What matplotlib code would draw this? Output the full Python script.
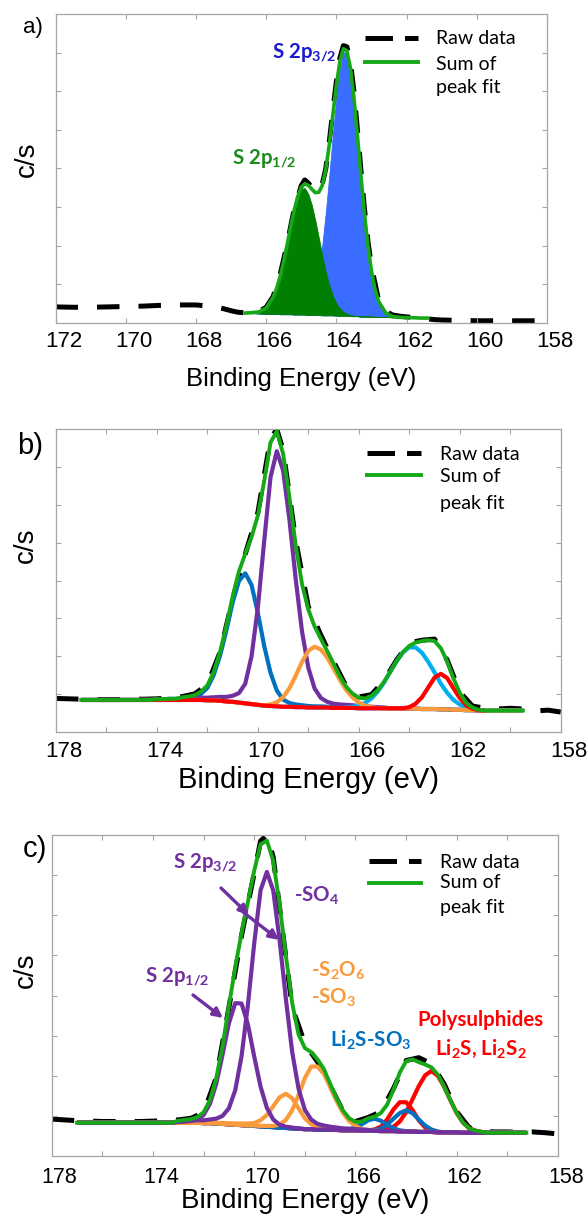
import numpy as np
import matplotlib
matplotlib.use("Agg")
import matplotlib.pyplot as plt
from matplotlib.lines import Line2D
from matplotlib.transforms import ScaledTranslation

W, H = 587, 1218
STEP = 0.25

# ---------------- panel a: S 2p doublet ----------------
energy_a = [166.6, 166.4, 166.2, 166.0, 165.8, 165.7, 165.6, 165.5, 165.4, 165.3,
            165.2, 165.1, 165.0, 164.9, 164.8, 164.7, 164.6, 164.5, 164.4, 164.3,
            164.2, 164.1, 164.0, 163.9, 163.8, 163.7, 163.6, 163.5, 163.4, 163.3,
            163.2, 163.1, 163.0, 162.9, 162.8, 162.6, 162.4, 162.2, 162.0, 161.8,
            161.6, 161.4]
background_a = [0.25, 0.25, 0.24, 0.23, 0.23, 0.23, 0.22, 0.22, 0.22, 0.22,
                0.21, 0.21, 0.21, 0.21, 0.20, 0.20, 0.20, 0.20, 0.19, 0.19,
                0.19, 0.19, 0.18, 0.18, 0.18, 0.18, 0.17, 0.17, 0.17, 0.16,
                0.16, 0.16, 0.16, 0.15, 0.15, 0.15, 0.14, 0.14, 0.13, 0.13,
                0.12, 0.12]
s2p12_a = [0.0, 0.01, 0.04, 0.15, 0.43, 0.66, 0.98, 1.37, 1.81, 2.27,
           2.70, 3.04, 3.25, 3.28, 3.14, 2.85, 2.45, 2.00, 1.54, 1.12,
           0.78, 0.51, 0.32, 0.19, 0.10, 0.05, 0.03, 0.01, 0, 0,
           0, 0, 0, 0, 0, 0, 0, 0, 0, 0, 0, 0]
s2p32_a = [0, 0, 0, 0, 0, 0, 0, 0, 0, 0.0,
           0.01, 0.02, 0.05, 0.11, 0.22, 0.41, 0.72, 1.18, 1.83, 2.67,
           3.65, 4.68, 5.65, 6.40, 6.82, 6.82, 6.40, 5.65, 4.68, 3.65,
           2.67, 1.83, 1.18, 0.72, 0.41, 0.11, 0.02, 0, 0, 0, 0, 0]
raw_energy_a = [172, 171.5, 171, 170.5, 170, 169.5, 169, 168.5, 168, 167.5,
                167.2, 167, 166.8, 166.6, 166.4, 166.2, 166, 165.8, 165.6, 165.4,
                165.2, 165.0, 164.9, 164.8, 164.7, 164.6, 164.5, 164.4, 164.3, 164.2,
                164.1, 164.0, 163.9, 163.8, 163.7, 163.6, 163.5, 163.4, 163.3, 163.2,
                163.1, 163.0, 162.8, 162.6, 162.4, 162.2, 162, 161.6, 161.2, 161,
                160.5, 160, 159.5, 159, 158.5, 158]
raw_counts_a = [0.41, 0.40, 0.40, 0.41, 0.42, 0.43, 0.45, 0.46, 0.46, 0.42,
                0.36, 0.31, 0.27, 0.26, 0.26, 0.29, 0.40, 0.68, 1.25, 2.05,
                2.95, 3.55, 3.70, 3.62, 3.50, 3.43, 3.42, 3.60, 4.00, 4.70,
                5.50, 6.25, 6.85, 7.18, 7.15, 6.75, 6.00, 5.00, 3.95, 2.95,
                2.10, 1.45, 0.60, 0.30, 0.20, 0.17, 0.15, 0.12, 0.08, 0.07,
                0.06, 0.05, 0.05, 0.05, 0.05, 0.05]
ticks_a = [172, 170, 168, 166, 164, 162, 160, 158]

# ---------------- panel b ----------------
# background on a 0.25 eV grid from 177.0 eV down to 159.5 eV
background_b = [0.84] * 19 + [
    0.84, 0.83, 0.83, 0.82, 0.80, 0.79, 0.77, 0.75, 0.73, 0.71,
    0.69, 0.68, 0.67, 0.66, 0.66, 0.65, 0.65, 0.64, 0.64, 0.64,
    0.64, 0.63, 0.63, 0.63, 0.63, 0.62, 0.62, 0.62, 0.62, 0.62,
    0.62, 0.62, 0.61, 0.61, 0.61, 0.60, 0.60, 0.60, 0.59, 0.59,
    0.58, 0.58, 0.57, 0.57, 0.56, 0.56, 0.56, 0.56, 0.56, 0.56,
    0.56, 0.56]
# (first energy, net intensities every 0.25 eV)
blue_b = (174.0, [0.02, 0.02, 0.03, 0.03, 0.04, 0.05, 0.08, 0.16, 0.33, 0.67,
                  1.19, 1.88, 2.63, 3.22, 3.44, 3.15, 2.43, 1.58, 0.88, 0.42,
                  0.19, 0.10, 0.07, 0.05, 0.04, 0.03, 0.03, 0.02, 0.02])
purple_b = (173.0, [0.03, 0.04, 0.05, 0.06, 0.07, 0.08, 0.10, 0.12, 0.16, 0.25,
                    0.52, 1.27, 2.58, 4.35, 6.05, 6.75, 6.25, 4.95, 3.38, 2.00,
                    1.05, 0.50, 0.25, 0.15, 0.11, 0.09, 0.08, 0.07, 0.06, 0.05,
                    0.04, 0.03, 0.02])
orange_b = (169.75, [0.01, 0.04, 0.11, 0.25, 0.49, 0.83, 1.20, 1.50, 1.61, 1.53,
                     1.32, 1.04, 0.74, 0.47, 0.28, 0.15, 0.07, 0.03, 0.01])
lightblue_b = (166.5, [0.01, 0.03, 0.07, 0.14, 0.26, 0.44, 0.68, 0.97, 1.25, 1.49,
                       1.62, 1.62, 1.49, 1.25, 0.97, 0.68, 0.44, 0.26, 0.14, 0.07,
                       0.03, 0.01])
red_b = (164.25, [0.01, 0.04, 0.13, 0.31, 0.57, 0.83, 0.94, 0.83, 0.57, 0.31,
                  0.13, 0.04, 0.01])
raw_energy_b = [178, 177.5, 177, 176.5, 176, 175.5, 175, 174.5, 174, 173.5,
                173, 172.5, 172, 171.5, 171, 170.5, 170, 169.5, 169.25, 169,
                168.5, 168, 167.5, 167, 166.5, 166, 165.5, 165, 164.5, 164,
                163.5, 163, 162.5, 162, 161.5, 161, 160.5, 160, 159.5, 159,
                158.5, 158]
raw_counts_b = [0.88, 0.87, 0.86, 0.85, 0.85, 0.85, 0.86, 0.86, 0.87, 0.89,
                0.93, 1.00, 1.25, 2.10, 3.50, 4.70, 5.80, 7.75, 8.00, 7.45,
                5.05, 3.30, 2.55, 1.85, 1.20, 0.92, 0.98, 1.35, 1.90, 2.35,
                2.42, 2.45, 1.90, 1.05, 0.68, 0.62, 0.60, 0.62, 0.60, 0.55,
                0.57, 0.52]

# ---------------- panel c ----------------
# background on a 0.25 eV grid from 177.0 eV down to 159.25 eV
background_c = [0.83] * 19 + [
    0.83, 0.82, 0.82, 0.81, 0.80, 0.79, 0.78, 0.77, 0.76, 0.75,
    0.74, 0.73, 0.72, 0.71, 0.70, 0.69, 0.68, 0.67, 0.67, 0.66,
    0.66, 0.65, 0.65, 0.64, 0.64, 0.64, 0.63, 0.63, 0.63, 0.62,
    0.62, 0.62, 0.61, 0.61, 0.61, 0.60, 0.60, 0.60, 0.59, 0.59,
    0.59, 0.59, 0.58, 0.58, 0.58, 0.58, 0.58, 0.58, 0.58, 0.58,
    0.58, 0.58, 0.58]
so4_32_c = (173.0, [0.03, 0.04, 0.05, 0.06, 0.07, 0.09, 0.12, 0.20, 0.40, 0.86,
                    1.72, 3.00, 4.55, 5.88, 6.35, 5.90, 4.68, 3.22, 1.90, 1.00,
                    0.48, 0.24, 0.14, 0.10, 0.08, 0.06, 0.05, 0.04, 0.03, 0.03,
                    0.02])
so4_12_c = (173.0, [0.02, 0.03, 0.04, 0.08, 0.20, 0.48, 0.99, 1.73, 2.52, 3.03,
                    3.03, 2.52, 1.73, 0.99, 0.47, 0.19, 0.07, 0.03, 0.02])
s2o6_small_c = (171.5, [0.02, 0.02, 0.03, 0.03, 0.04, 0.05, 0.07, 0.15, 0.29, 0.52,
                        0.75, 0.85, 0.75, 0.51, 0.27, 0.12, 0.04, 0.02])
s2o6_big_c = (170.0, [0.01, 0.01, 0.02, 0.03, 0.07, 0.20, 0.45, 0.84, 1.27, 1.56,
                      1.57, 1.39, 1.07, 0.73, 0.44, 0.23, 0.11, 0.04, 0.02])
li2sso3_small_c = (166.5, [0.01, 0.03, 0.07, 0.16, 0.26, 0.30, 0.26, 0.16, 0.07, 0.03,
                           0.01])
li2sso3_big_c = (165.25, [0.02, 0.06, 0.16, 0.31, 0.46, 0.53, 0.46, 0.31, 0.16, 0.06,
                          0.02])
poly_small_c = (165.5, [0.01, 0.03, 0.11, 0.29, 0.54, 0.73, 0.73, 0.54, 0.29, 0.11,
                        0.03, 0.01])
poly_big_c = (165.0, [0.02, 0.05, 0.11, 0.25, 0.48, 0.80, 1.14, 1.41, 1.52, 1.41,
                      1.14, 0.80, 0.48, 0.25, 0.11, 0.05, 0.02])
raw_energy_c = [178, 177.5, 177, 176.5, 176, 175.5, 175, 174.5, 174, 173.5,
                173, 172.5, 172, 171.5, 171, 170.5, 170, 169.75, 169.5, 169.25,
                169, 168.5, 168, 167.5, 167, 166.5, 166, 165.5, 165, 164.5,
                164, 163.5, 163, 162.5, 162, 161.5, 161, 160.5, 160, 159.5,
                159, 158.5, 158]
raw_counts_c = [0.92, 0.90, 0.88, 0.87, 0.86, 0.86, 0.86, 0.86, 0.87, 0.88,
                0.90, 0.94, 1.08, 1.95, 3.70, 5.50, 7.05, 7.85, 8.00, 7.45,
                6.20, 3.70, 2.80, 2.35, 1.75, 1.12, 0.86, 0.96, 1.10, 1.68,
                2.38, 2.45, 2.30, 1.80, 1.10, 0.70, 0.62, 0.60, 0.60, 0.59,
                0.60, 0.58, 0.55]
ticks_bc = [178, 174, 170, 166, 162, 158]
minor_bc = [176, 172, 168, 164, 160]

# colours
SUM_GREEN = "#16a816"
PURPLE = "#7030a0"
DARK_BLUE = "#0070c0"
LIGHT_BLUE = "#00b0f0"
ORANGE = "#f99a3c"
RED = "#ff0000"
SPINE = "#a6a6a6"

plt.rcParams['font.family'] = ['Liberation Sans', 'DejaVu Sans']
plt.rcParams['mathtext.fontset'] = 'custom'
plt.rcParams['mathtext.rm'] = 'Lato'
plt.rcParams['mathtext.bf'] = 'Lato:bold'
plt.rcParams['mathtext.it'] = 'Lato:italic'


def fx(x):
    return x / W


def fy(y):
    return 1 - y / H


def on_grid(grid, comp):
    start, values = comp
    out = np.zeros(len(grid))
    i0 = int(round((grid[0] - start) / STEP))
    out[i0:i0 + len(values)] = values
    return out


def style_axes(ax, xlim, major, minor, tick_size, pad, label_size, label_y):
    ax.set_xlim(*xlim)
    ax.set_ylim(0, 8)
    ax.set_xticks(major)
    ax.set_xticks(minor, minor=True)
    ax.set_yticks(range(1, 8))
    ax.set_yticklabels([])
    ax.tick_params(which='both', direction='in', top=True, right=True,
                   length=3.5, width=0.8, color=SPINE,
                   labelsize=tick_size, pad=pad)
    for sp in ax.spines.values():
        sp.set_color(SPINE)
        sp.set_linewidth(0.9)
    ax.set_xlabel('Binding Energy (eV)', fontsize=label_size)
    ax.xaxis.set_label_coords(0.5, label_y)
    shift = ScaledTranslation(8 / 100, 0, fig.dpi_scale_trans)
    for lab in ax.get_xticklabels():
        lab.set_transform(lab.get_transform() + shift)


def raw_line(ax, e, c):
    ax.plot(e, c, color='black', lw=3.6, dashes=(4.5, 3.8),
            dash_capstyle='butt', zorder=1.5)


def legend(x0, x1, y_raw, y_sum, tx, ty):
    fig.add_artist(Line2D([fx(x0), fx(x1)], [fy(y_raw)] * 2, color='black',
                          lw=3.6, dashes=(5.5, 2.4), dash_capstyle='butt'))
    fig.add_artist(Line2D([fx(x0), fx(x1)], [fy(y_sum)] * 2, color=SUM_GREEN,
                          lw=2.8))
    for txt, y in zip(['Raw data', 'Sum of', 'peak fit'], ty):
        fig.text(fx(tx), fy(y), txt, family='Lato', fontsize=14,
                 ha='left', va='center')


def note(x, y, s, color, ha='center'):
    fig.text(fx(x), fy(y), s, family='Lato', weight='bold', fontsize=14.8,
             color=color, ha=ha, va='center')


def arrow(ax, x0, y0, x1, y1):
    ax.annotate('', xy=(fx(x1), fy(y1)), xytext=(fx(x0), fy(y0)),
                xycoords='figure fraction', textcoords='figure fraction',
                arrowprops=dict(arrowstyle='-|>', color=PURPLE, lw=2.4,
                                mutation_scale=14, shrinkA=0, shrinkB=0))


fig = plt.figure(figsize=(W / 100, H / 100), dpi=100)
ax_a = fig.add_axes([fx(55.5), fy(322.7), 491.5 / W, 308.7 / H])
ax_b = fig.add_axes([fx(56), fy(731.7), 504.7 / W, 302.4 / H])
ax_c = fig.add_axes([fx(51.7), fy(1156), 506.3 / W, 321 / H])

# ---- panel a ----
e_a = np.array(energy_a)
bg_a = np.array(background_a)
p12 = bg_a + np.array(s2p12_a)
p32 = bg_a + np.array(s2p32_a)
raw_line(ax_a, raw_energy_a, raw_counts_a)
ax_a.fill_between(e_a, bg_a, p32, color="#3a6cff", lw=0.6, zorder=2)
ax_a.fill_between(e_a, bg_a, p12, color="#007f00", lw=0.6, zorder=2.1)
ax_a.plot(e_a, bg_a + np.array(s2p12_a) + np.array(s2p32_a), color=SUM_GREEN,
          lw=2.6, zorder=3)
style_axes(ax_a, (172, 158), ticks_a, [], 16, 6.3, 18.5, -0.143)

# ---- panel b ----
bg_b = np.array(background_b)
grid_b = 177.0 - STEP * np.arange(len(bg_b))
raw_line(ax_b, raw_energy_b, raw_counts_b)
total_b = bg_b.copy()
for comp, col in [(blue_b, DARK_BLUE), (purple_b, PURPLE), (lightblue_b, LIGHT_BLUE),
                  (orange_b, ORANGE), (red_b, RED)]:
    net = on_grid(grid_b, comp)
    total_b += net
    keep = grid_b >= 161.0 if col == RED else grid_b > 0
    ax_b.plot(grid_b[keep], (bg_b + net)[keep], color=col, lw=3.0, zorder=2,
              solid_capstyle='butt')
ax_b.plot(grid_b, total_b, color=SUM_GREEN, lw=2.8, zorder=3)
style_axes(ax_b, (178, 158), ticks_bc, minor_bc, 16, 7, 21, -0.114)

# ---- panel c ----
bg_c = np.array(background_c)
grid_c = 177.0 - STEP * np.arange(len(bg_c))
raw_line(ax_c, raw_energy_c, raw_counts_c)
total_c = bg_c.copy()
for comp, col in [(poly_small_c, RED), (poly_big_c, RED),
                  (li2sso3_small_c, DARK_BLUE), (li2sso3_big_c, DARK_BLUE),
                  (s2o6_small_c, ORANGE), (s2o6_big_c, ORANGE),
                  (so4_12_c, PURPLE), (so4_32_c, PURPLE)]:
    net = on_grid(grid_c, comp)
    total_c += net
    ax_c.plot(grid_c, bg_c + net, color=col, lw=3.0, zorder=2,
              solid_capstyle='butt')
ax_c.plot(grid_c, total_c, color=SUM_GREEN, lw=2.8, zorder=3)
style_axes(ax_c, (178, 158), ticks_bc, minor_bc, 15.5, 8, 20, -0.1)

# panel letters and y labels
for (x, y, s, size) in [(33, 27, 'a)', 16), (30, 446, 'b)', 21), (35, 849, 'c)', 21)]:
    fig.text(fx(x), fy(y), s, fontsize=size, ha='center', va='center')
for (x, y) in [(27, 159), (26, 545), (26, 970)]:
    fig.text(fx(x), fy(y), 'c/s', fontsize=20, rotation=90, ha='center', va='center')

# legends
legend(365, 418, 38, 62, 436, [38, 64, 87])
legend(367, 421, 453, 475, 440, [454, 477, 503])
legend(369, 421, 861, 883, 440, [862, 883, 908])

# annotations
note(304, 53, r"S 2p$_{\mathbf{3/2}}$", "#1a1acc")
note(264, 159, r"S 2p$_{\mathbf{1/2}}$", "#1e8b1e")

note(205, 863, r"S 2p$_{\mathbf{3/2}}$", PURPLE)
note(177, 977, r"S 2p$_{\mathbf{1/2}}$", PURPLE)
note(317, 896, r"-SO$_{\mathbf{4}}$", PURPLE)
note(311, 971, r"-S$_{\mathbf{2}}$O$_{\mathbf{6}}$", ORANGE, ha='left')
note(311, 998, r"-SO$_{\mathbf{3}}$", ORANGE, ha='left')
note(371, 1040, r"Li$_{\mathbf{2}}$S-SO$_{\mathbf{3}}$", DARK_BLUE)
note(480, 1020, "Polysulphides", RED)
note(481, 1049, r"Li$_{\mathbf{2}}$S, Li$_{\mathbf{2}}$S$_{\mathbf{2}}$", RED)
arrow(ax_c, 221, 888, 249, 915)
arrow(ax_c, 243, 912, 279, 940)
arrow(ax_c, 193, 995, 223, 1018)

fig.savefig('out.png', dpi=100)
